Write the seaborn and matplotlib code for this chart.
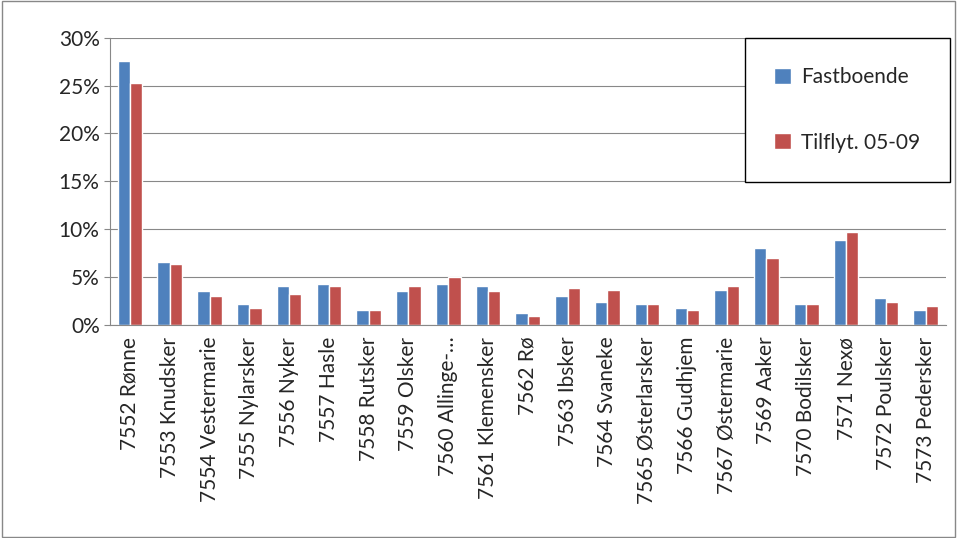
import matplotlib
matplotlib.use("Agg")
import matplotlib.pyplot as plt
import seaborn as sns
import pandas as pd
from matplotlib.ticker import PercentFormatter

sognes = ["7552 Rønne", "7553 Knudsker", "7554 Vestermarie", "7555 Nylarsker",
          "7556 Nyker", "7557 Hasle", "7558 Rutsker", "7559 Olsker",
          "7560 Allinge-…", "7561 Klemensker", "7562 Rø", "7563 Ibsker",
          "7564 Svaneke", "7565 Østerlarsker", "7566 Gudhjem", "7567 Østermarie",
          "7569 Aaker", "7570 Bodilsker", "7571 Nexø", "7572 Poulsker",
          "7573 Pedersker"]
fastboende = [27.6, 6.6, 3.5, 2.2, 4.1, 4.3, 1.6, 3.5, 4.3, 4.1, 1.2, 3.0,
              2.4, 2.2, 1.8, 3.7, 8.0, 2.2, 8.9, 2.8, 1.6]
tilflyt = [25.3, 6.4, 3.0, 1.8, 3.2, 4.1, 1.6, 4.1, 5.0, 3.5, 0.9, 3.9,
           3.7, 2.2, 1.6, 4.1, 7.0, 2.2, 9.7, 2.4, 2.0]

df = pd.DataFrame({"sogn": sognes * 2,
                   "andel": fastboende + tilflyt,
                   "gruppe": ["Fastboende"] * len(sognes) + ["Tilflyt. 05-09"] * len(sognes)})

sns.set_style("white")
plt.rcParams["font.family"] = ["Lato", "DejaVu Sans"]

fig = plt.figure(figsize=(9.57, 5.38), dpi=100)
ax = fig.add_axes([0.115, 0.396, 0.873, 0.534])
sns.barplot(data=df, x="sogn", y="andel", hue="gruppe", ax=ax,
            palette=["#4F81BD", "#C0504D"], width=0.62, saturation=1)
ax.set_ylim(0, 30)
ax.set_yticks(range(0, 31, 5))
ax.yaxis.set_major_formatter(PercentFormatter(decimals=0))
ax.grid(axis="y", color="#888888", lw=0.8)
ax.set_axisbelow(True)
ax.set_xlabel("")
ax.set_ylabel("")
for s in ["top", "right"]:
    ax.spines[s].set_visible(False)
for s in ["left", "bottom"]:
    ax.spines[s].set_color("#888888")
ax.tick_params(axis="x", rotation=90, labelsize=15, length=5, color="#888888", direction="out")
ax.tick_params(axis="y", labelsize=15, length=4, color="#888888", left=True)
ax.set_xticks([i for i in range(len(sognes))])
ax.set_xlim(-0.5, len(sognes) - 0.5)

leg = ax.legend(loc="upper right", bbox_to_anchor=(1.005, 1.0), fontsize=15,
                frameon=True, fancybox=False, edgecolor="black", framealpha=1,
                handlelength=0.8, handleheight=0.8, labelspacing=2.2,
                borderpad=1.4, borderaxespad=0, handletextpad=0.5)
leg.get_frame().set_linewidth(1.0)

fig.patches.append(plt.Rectangle((0.002, 0.002), 0.996, 0.996, transform=fig.transFigure,
                                 fill=False, edgecolor="#888888", lw=1))
fig.savefig("out.png", dpi=100)
